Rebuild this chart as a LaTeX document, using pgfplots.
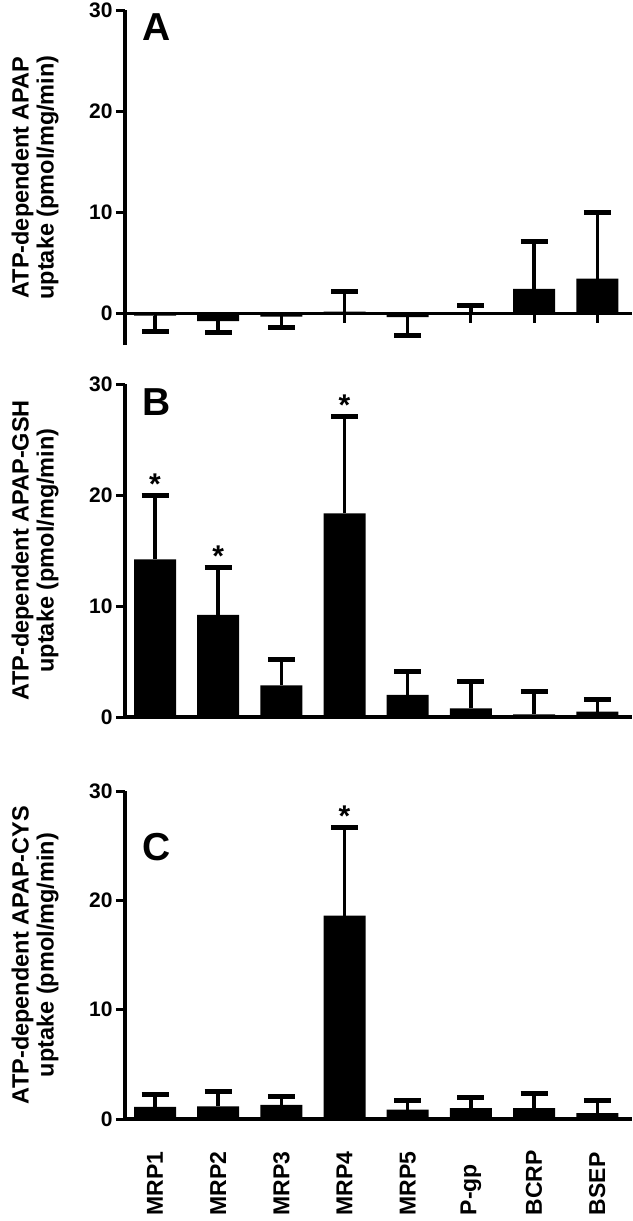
\documentclass[border=0pt]{standalone}
\usepackage{fontspec}
\setmainfont{Liberation Sans}
\usepackage{pgfplots}
\pgfplotsset{compat=1.18}

\tikzset{letter/.style={anchor=north west, inner sep=0pt, font=\fontsize{39}{39}\selectfont\bfseries}}

\pgfplotsset{
  panel/.style={
    scale only axis, width=507pt, xmin=-0.475, xmax=7.55, ymax=30,
    clip=false,
    axis y line*=left,
    axis line style={line width=3.2pt},
    ytick={0,10,20,30},
    tick align=outside, major tick length=9pt,
    every tick/.style={line width=3pt, black},
    minor tick num=0,
    yticklabel style={font=\fontsize{21}{21}\selectfont\bfseries, /pgf/number format/assume math mode=true},
    ylabel style={at={(axis description cs:-0.124,0.5)}, anchor=south, align=center,
                  font=\fontsize{23.5}{25}\selectfont\bfseries},
  },
  barsplus/.style={ybar, bar width=42pt, bar shift=0pt, fill=black, draw=none,
    error bars/.cd, y dir=plus, y explicit,
    error bar style={draw=black, line width=3.4pt},
    error mark options={draw=black, rotate=90, mark size=13.5pt, line width=5pt}},
  barsminus/.style={ybar, bar width=42pt, bar shift=0pt, fill=black, draw=none,
    error bars/.cd, y dir=minus, y explicit,
    error bar style={draw=black, line width=3.4pt},
    error mark options={draw=black, rotate=90, mark size=13.5pt, line width=5pt}},
  stars/.style={draw=none, mark=none, nodes near coords={*},
    every node near coord/.append style={anchor=base, inner sep=0pt, yshift=1pt,
      font=\fontsize{30}{30}\selectfont\bfseries}},
}

\begin{document}
\begin{tikzpicture}
\path[use as bounding box] (0,0) rectangle (632pt,-1221pt);

% Panel A
\begin{axis}[panel, at={(125pt,-345pt)}, anchor=south west, height=335pt,
  ymin=-3.1, axis x line*=middle,
  xtick={0,1,2,3,4,5,6,7}, xticklabels={},
  xtick align=outside, 
  ylabel={ATP-dependent APAP\\uptake (pmol/mg/min)}]
\addplot[barsminus] coordinates {(0,-0.2) +- (0,1.6) (1,-0.75) +- (0,1.15) (2,-0.3) +- (0,1.1) (4,-0.35) +- (0,1.85)};
\addplot[barsplus] coordinates {(3,0.2) +- (0,2.0) (5,0.1) +- (0,0.75) (6,2.45) +- (0,4.65) (7,3.45) +- (0,6.55)};
\node[letter] at (axis description cs:0.034,0.991) {A};
\end{axis}

% Panel B
\begin{axis}[panel, at={(125pt,-717pt)}, anchor=south west, height=333pt,
  ymin=0, axis x line*=bottom, xtick=\empty,
  ylabel={ATP-dependent APAP-GSH\\uptake (pmol/mg/min)}]
\addplot[barsplus] coordinates {(0,14.2) +- (0,5.8) (1,9.2) +- (0,4.3) (2,2.85) +- (0,2.35) (3,18.35) +- (0,8.75) (4,2.0) +- (0,2.07) (5,0.78) +- (0,2.45) (6,0.24) +- (0,2.1) (7,0.48) +- (0,1.08)};
\addplot[stars] coordinates {(0,20.0) (1,13.5) (3,27.1)};
\node[letter] at (axis description cs:0.034,0.988) {B};
\end{axis}

% Panel C
\begin{axis}[panel, at={(125pt,-1119pt)}, anchor=south west, height=328pt,
  ymin=0, axis x line*=bottom,
  xtick={0,1,2,3,4,5,6,7},
  xticklabels={MRP1,MRP2,MRP3,MRP4,MRP5,P-gp,BCRP,BSEP},
  x tick style={draw=none},
  xticklabel style={rotate=90, anchor=east, text width=87pt, align=left, inner sep=0pt,
    font=\fontsize{23}{23}\selectfont\bfseries},
  ylabel={ATP-dependent APAP-CYS\\uptake (pmol/mg/min)}]
\addplot[barsplus] coordinates {(0,1.1) +- (0,1.1) (1,1.16) +- (0,1.32) (2,1.3) +- (0,0.78) (3,18.6) +- (0,8.1) (4,0.86) +- (0,0.84) (5,1.0) +- (0,0.93) (6,1.0) +- (0,1.32) (7,0.55) +- (0,1.15)};
\addplot[stars] coordinates {(3,26.7)};
\node[letter] at (axis description cs:0.034,0.872) {C};
\end{axis}
\end{tikzpicture}
\end{document}
